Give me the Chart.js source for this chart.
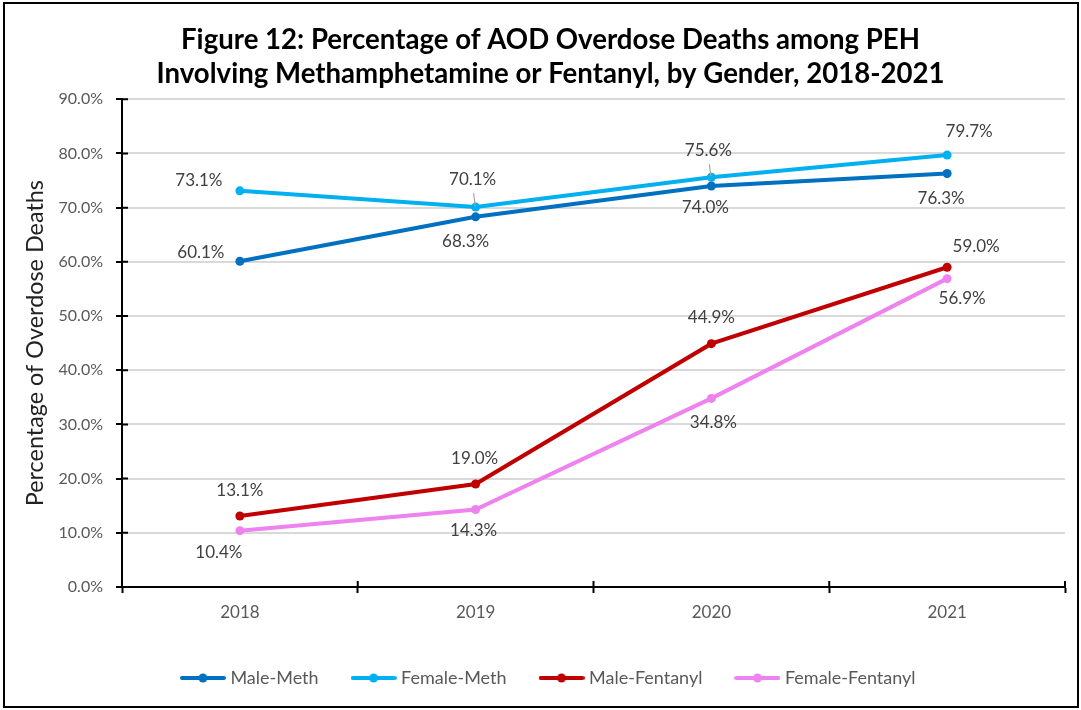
<!DOCTYPE html>
<html><head><meta charset="utf-8">
<script src="https://cdn.jsdelivr.net/npm/chart.js@4.4.1/dist/chart.umd.min.js"></script>
<style>html,body{margin:0;padding:0;background:#fff;} canvas{display:block;}</style>
</head><body>
<canvas id="c" width="1081" height="710"></canvas>
<script>
// ---- data ----
const years = ['2018', '2019', '2020', '2021'];
const maleMeth = [60.1, 68.3, 74.0, 76.3];
const femaleMeth = [73.1, 70.1, 75.6, 79.7];
const maleFentanyl = [13.1, 19.0, 44.9, 59.0];
const femaleFentanyl = [10.4, 14.3, 34.8, 56.9];
const seriesNames = ['Male-Meth', 'Female-Meth', 'Male-Fentanyl', 'Female-Fentanyl'];
const titleLines = ['Figure 12: Percentage of AOD Overdose Deaths among PEH',
                    'Involving Methamphetamine or Fentanyl, by Gender, 2018-2021'];
const yAxisTitle = 'Percentage of Overdose Deaths';

// ---- styles ----
const colors = ['#0070c0', '#00b0f0', '#c00000', '#ee82ee'];
// label offsets (dx, dy) relative to each point, per series
const labelOffsets = [
  [[-39, -9], [-10, 25], [-6, 22], [-6, 25]],
  [[-41, -10], [-3, -28], [-3, -27], [22, -24]],
  [[0, -25], [-1, -26], [0, -26], [29, -21]],
  [[-21, 22], [-2, 21], [2, 24], [15, 20]]
];
const leaders = [[], [1, 2], [], []];
const FONT = 'Lato, "Open Sans", sans-serif';

function legendImg(color) {
  const c = document.createElement('canvas');
  c.width = 46; c.height = 12;
  const g = c.getContext('2d');
  g.strokeStyle = color; g.lineWidth = 4; g.lineCap = 'round';
  g.beginPath(); g.moveTo(2, 6); g.lineTo(44, 6); g.stroke();
  g.fillStyle = color; g.beginPath(); g.arc(23, 6, 4.5, 0, Math.PI * 2); g.fill();
  return c;
}
const legendImages = colors.map(legendImg);

const seriesData = [maleMeth, femaleMeth, maleFentanyl, femaleFentanyl];
const datasets = seriesData.map((d, i) => ({
  label: seriesNames[i],
  data: d,
  borderColor: colors[i],
  backgroundColor: colors[i],
  pointBackgroundColor: colors[i],
  pointBorderWidth: 0,
  pointRadius: 4.5,
  pointStyle: 'circle',
  borderWidth: 4,
  tension: 0
}));

const framePlugin = {
  id: 'frame',
  beforeDraw(chart) {
    const ctx = chart.ctx;
    ctx.save();
    ctx.fillStyle = '#fff';
    ctx.fillRect(0, 0, chart.width, chart.height);
    ctx.restore();
  },
  afterDraw(chart) {
    const ctx = chart.ctx;
    ctx.save();
    ctx.strokeStyle = '#000';
    ctx.lineWidth = 2;
    ctx.strokeRect(4, 3, 1074, 704);
    ctx.restore();
  }
};

const innerTicks = {
  id: 'innerTicks',
  beforeDatasetsDraw(chart) {
    const ctx = chart.ctx, x = chart.scales.x, y = chart.scales.y;
    ctx.save();
    ctx.strokeStyle = '#000';
    ctx.lineWidth = 2;
    ctx.beginPath();
    y.ticks.forEach((t, i) => {
      const py = y.getPixelForTick(i);
      ctx.moveTo(x.left, py); ctx.lineTo(x.left + 6, py);
    });
    for (let i = 0; i <= years.length; i++) {
      const px = x.getPixelForValue(i - 0.5);
      ctx.moveTo(px, y.bottom); ctx.lineTo(px, y.bottom - 6);
    }
    ctx.stroke();
    ctx.restore();
  }
};

const dataLabels = {
  id: 'dataLabels',
  afterDatasetsDraw(chart) {
    const ctx = chart.ctx;
    ctx.save();
    ctx.font = '17px ' + FONT;
    ctx.fillStyle = '#404040';
    ctx.textAlign = 'center';
    ctx.textBaseline = 'middle';
    chart.data.datasets.forEach((ds, di) => {
      const meta = chart.getDatasetMeta(di);
      meta.data.forEach((pt, i) => {
        const [dx, dy] = labelOffsets[di][i];
        const tx = pt.x + dx, ty = pt.y + dy;
        if (leaders[di].includes(i)) {
          ctx.save();
          ctx.strokeStyle = '#a6a6a6';
          ctx.lineWidth = 1.2;
          ctx.beginPath();
          ctx.moveTo(tx + 1, ty + 14);
          ctx.lineTo(pt.x - 0.5, pt.y - 1);
          ctx.stroke();
          ctx.restore();
        }
        ctx.fillText(ds.data[i].toFixed(1) + '%', tx, ty);
      });
    });
    ctx.restore();
  }
};

const boxShift = {
  id: 'boxShift',
  afterLayout(chart) {
    chart.legend.left += 13.5;
    chart.legend.right += 13.5;
    chart.titleBlock.left += 14;
    chart.titleBlock.right += 14;
  }
};

new Chart(document.getElementById('c'), {
  type: 'line',
  data: { labels: years, datasets },
  plugins: [framePlugin, innerTicks, dataLabels, boxShift],
  options: {
    responsive: false,
    animation: false,
    layout: { padding: { left: 8, right: 16, top: 0, bottom: 13 } },
    plugins: {
      title: {
        display: true,
        text: titleLines,
        color: '#000',
        font: { family: FONT, size: 27.6, weight: 'bold', lineHeight: 1.2 },
        padding: { top: 24, bottom: 9 }
      },
      legend: {
        position: 'bottom',
        labels: {
          usePointStyle: true,
          pointStyleWidth: 37,
          padding: 36.5,
          color: '#595959',
          font: { family: FONT, size: 18 },
          generateLabels(chart) {
            const items = Chart.defaults.plugins.legend.labels.generateLabels(chart);
            items.forEach((it, i) => { it.pointStyle = legendImages[i]; });
            return items;
          }
        }
      },
      tooltip: { enabled: false }
    },
    scales: {
      x: {
        offset: true,
        grid: {
          offset: true,
          drawOnChartArea: false,
          drawTicks: true,
          tickLength: 6,
          tickColor: '#000',
          tickWidth: 2
        },
        border: { color: '#000', width: 2 },
        ticks: { color: '#595959', padding: 9, font: { family: FONT, size: 17 } },
        afterFit(s) { s.height = 45.5; }
      },
      y: {
        min: 0, max: 90,
        grid: {
          color: '#d9d9d9',
          lineWidth: 2,
          tickLength: 6,
          tickColor: '#000',
          tickWidth: 2
        },
        border: { color: '#000', width: 2 },
        ticks: {
          stepSize: 10,
          color: '#595959',
          padding: 13,
          font: { family: FONT, size: 16 },
          callback: v => v.toFixed(1) + '%'
        },
        title: {
          display: true,
          text: yAxisTitle,
          color: '#222',
          font: { family: FONT, size: 23.4, lineHeight: 1.2 },
          padding: { top: 13, bottom: 0 }
        },
        afterFit(s) { s.width = 114; }
      }
    }
  }
});
</script>
</body></html>
